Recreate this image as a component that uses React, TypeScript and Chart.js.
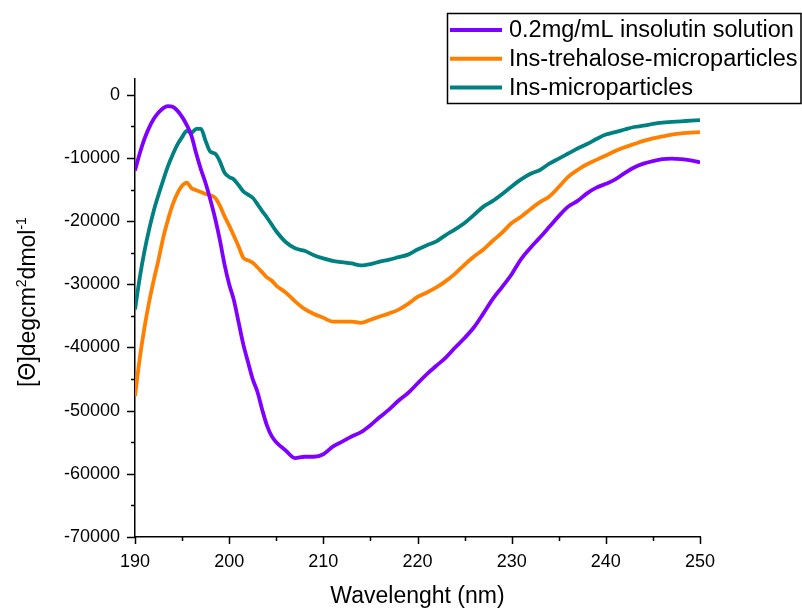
import React, { useEffect, useRef } from "react";
import { Chart, registerables } from "chart.js";

Chart.register(...registerables);

const wavelengths = [
  190, 190.5, 191, 191.5, 192, 192.5, 193, 193.5, 194, 194.5, 195, 195.5, 196, 196.5, 197, 197.5,
  198, 198.5, 199, 199.5, 200, 200.5, 201, 201.5, 202, 202.5, 203, 203.5, 204, 204.5, 205,
  206, 207, 208, 209, 210, 211, 212, 213, 214, 215, 216, 217, 218, 219, 220,
  221, 222, 223, 224, 225, 226, 227, 228, 229, 230, 231, 232, 233, 234, 235,
  236, 237, 238, 239, 240, 241, 242, 243, 244, 245, 246, 247, 248, 249, 250,
];

const insulinSolution = [
  -12000, -9300, -7000, -5200, -3800, -2800, -2100, -1800, -1900, -2500, -3500, -4800, -6500, -9300, -11800, -14000,
  -16600, -19500, -22900, -26800, -30000, -32500, -36000, -39500, -42300, -45000, -47000, -49800, -52300, -54000, -55000,
  -56300, -57500, -57300, -57300, -56900, -55700, -54900, -54100, -53400, -52300, -51000, -49800, -48400, -47200, -45700,
  -44200, -42900, -41600, -40000, -38500, -36800, -34600, -32300, -30400, -28400, -26000, -24200, -22600, -20900, -19200,
  -17700, -16800, -15600, -14700, -14100, -13400, -12400, -11500, -10900, -10500, -10200, -10100, -10200, -10400, -10700,
];

const trehaloseMicroparticles = [
  -47700, -41800, -36900, -32800, -29300, -26100, -22600, -19800, -17400, -15600, -14400, -13900, -14800, -15100, -15400, -15700,
  -15900, -16300, -17500, -19200, -20700, -22300, -24000, -25800, -26200, -26600, -27300, -28100, -28900, -29400, -30200,
  -31300, -32700, -33900, -34700, -35300, -35900, -35900, -35900, -36100, -35600, -35100, -34600, -34000, -33100, -32000,
  -31300, -30500, -29500, -28300, -26900, -25600, -24500, -23100, -21800, -20300, -19300, -18100, -17000, -16100, -14600,
  -13000, -11900, -11000, -10300, -9600, -8900, -8300, -7800, -7300, -6900, -6600, -6300, -6100, -6000, -5900,
];

const insMicroparticles = [
  -34000, -29000, -24800, -21300, -18300, -15800, -13500, -11300, -9500, -7900, -6700, -5700, -6000, -5400, -5400, -7300,
  -9000, -9300, -10500, -12300, -13000, -13400, -14300, -15300, -15800, -16300, -17300, -18400, -19400, -20500, -21600,
  -23300, -24300, -24700, -25400, -25900, -26300, -26500, -26700, -27000, -26800, -26400, -26100, -25700, -25300, -24500,
  -23800, -23200, -22200, -21300, -20300, -19000, -17700, -16800, -15700, -14500, -13400, -12500, -11900, -10900, -10100,
  -9300, -8500, -7800, -7000, -6300, -5900, -5500, -5100, -4900, -4600, -4400, -4300, -4200, -4100, -4000,
];

const seriesLabels = [
  "0.2mg/mL insolutin solution",
  "Ins-trehalose-microparticles",
  "Ins-microparticles",
];
const seriesColors = ["#8000ff", "#ff8000", "#008080"];

const xMajorTicks = [190, 200, 210, 220, 230, 240, 250];
const xMinorTicks = [195, 205, 215, 225, 235, 245];
const yMajorTicks = [-70000, -60000, -50000, -40000, -30000, -20000, -10000, 0];
const yMinorTicks = [-65000, -55000, -45000, -35000, -25000, -15000, -5000];

const xTitle = "Wavelenght (nm)";
const FONT = "'Liberation Sans', Arial, sans-serif";

const decorPlugin = {
  id: "decor",
  afterDraw(chart: any) {
    const ctx = chart.ctx;
    const xs = chart.scales.x;
    const ys = chart.scales.y;
    const area = chart.chartArea;
    ctx.save();
    ctx.strokeStyle = "#000";
    ctx.lineWidth = 1.5;
    ctx.beginPath();
    const drawX = (v: number, len: number) => {
      const px = Math.round(xs.getPixelForValue(v)) + 0.5;
      ctx.moveTo(px, area.bottom);
      ctx.lineTo(px, area.bottom + len);
    };
    const drawY = (v: number, len: number) => {
      const py = Math.round(ys.getPixelForValue(v)) + 0.5;
      ctx.moveTo(area.left, py);
      ctx.lineTo(area.left - len, py);
    };
    xMajorTicks.forEach((v) => drawX(v, 7));
    xMinorTicks.forEach((v) => drawX(v, 4));
    yMajorTicks.forEach((v) => drawY(v, 8));
    yMinorTicks.forEach((v) => drawY(v, 4));
    ctx.stroke();

    // x title
    ctx.fillStyle = "#000";
    ctx.font = `23px ${FONT}`;
    ctx.textAlign = "center";
    ctx.textBaseline = "alphabetic";
    ctx.fillText(xTitle, (area.left + area.right) / 2, 603);

    // y title with superscripts
    const segs: [string, number, number][] = [
      ["[\u0398]degcm", 23, 0],
      ["2", 14, -9],
      ["dmol", 23, 0],
      ["-1", 14, -9],
    ];
    let total = 0;
    segs.forEach(([t, s]) => {
      ctx.font = `${s}px ${FONT}`;
      total += ctx.measureText(t).width;
    });
    ctx.translate(35, 302);
    ctx.rotate(-Math.PI / 2);
    ctx.textAlign = "left";
    let cx = -total / 2;
    segs.forEach(([t, s, dy]) => {
      ctx.font = `${s}px ${FONT}`;
      ctx.fillText(t, cx, dy);
      cx += ctx.measureText(t).width;
    });
    ctx.restore();

    // legend
    ctx.save();
    ctx.strokeStyle = "#000";
    ctx.lineWidth = 1.5;
    ctx.strokeRect(447.5, 13.5, 353.5, 90);
    ctx.font = `23.5px ${FONT}`;
    ctx.textAlign = "left";
    ctx.textBaseline = "middle";
    chart.data.datasets.forEach((ds: any, i: number) => {
      const y = 30 + i * 28.7;
      ctx.strokeStyle = ds.borderColor;
      ctx.lineWidth = 4;
      ctx.beginPath();
      ctx.moveTo(450, y);
      ctx.lineTo(502, y);
      ctx.stroke();
      ctx.fillStyle = "#000";
      ctx.fillText(ds.label, 509, y + 1);
    });
    ctx.restore();
  },
};

export default function App() {
  const ref = useRef<HTMLCanvasElement | null>(null);
  useEffect(() => {
    if (!ref.current) return;
    const series = [insulinSolution, trehaloseMicroparticles, insMicroparticles];
    const chart = new Chart(ref.current, {
      type: "line",
      data: {
        datasets: series.map((arr, i) => ({
          label: seriesLabels[i],
          data: wavelengths.map((x, j) => ({ x, y: arr[j] })),
          borderColor: seriesColors[i],
          backgroundColor: seriesColors[i],
          borderWidth: 3.8,
          pointRadius: 0,
          cubicInterpolationMode: "monotone" as const,
          fill: false,
        })),
      },
      options: {
        animation: false,
        responsive: false,
        devicePixelRatio: 1,
        layout: { padding: { top: 79, right: 102, left: 0, bottom: 0 } },
        plugins: {
          legend: { display: false },
          tooltip: { enabled: false },
        },
        scales: {
          x: {
            type: "linear",
            min: 190,
            max: 250,
            afterBuildTicks: (s: any) => {
              s.ticks = xMajorTicks.map((v) => ({ value: v }));
            },
            afterFit: (s: any) => {
              s.height = 71;
            },
            grid: { display: false, drawTicks: false },
            border: { display: true, color: "#000", width: 1.5 },
            ticks: {
              color: "#000",
              font: { family: FONT, size: 18 },
              padding: 14,
              maxRotation: 0,
              autoSkip: false,
            },
          },
          y: {
            type: "linear",
            min: -70000,
            max: 2500,
            afterBuildTicks: (s: any) => {
              s.ticks = yMajorTicks.map((v) => ({ value: v }));
            },
            afterFit: (s: any) => {
              s.width = 135;
            },
            grid: { display: false, drawTicks: false },
            border: { display: true, color: "#000", width: 1.5 },
            ticks: {
              color: "#000",
              font: { family: FONT, size: 18 },
              padding: 15,
              autoSkip: false,
              callback: (v: any) => String(v),
            },
          },
        },
      },
      plugins: [decorPlugin],
    });
    return () => chart.destroy();
  }, []);
  return (
    <div style={{ position: "absolute", left: 0, top: 0, width: 802, height: 608, background: "#fff" }}>
      <canvas ref={ref} width={802} height={608} style={{ display: "block" }} />
    </div>
  );
}
